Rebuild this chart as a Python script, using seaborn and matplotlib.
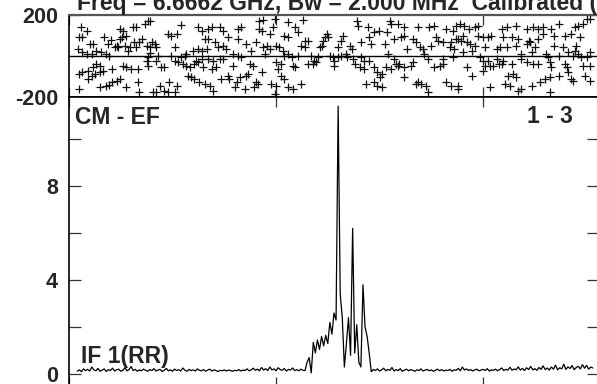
import numpy as np
import matplotlib
matplotlib.use("Agg")
import matplotlib.pyplot as plt
import seaborn as sns

# Phase (deg) per channel
chan_a = [12, 17, 10, 13, 49, 52, 62, 65, 73, 76, 78, 108, 125, 96, 99, 104, 34, 41, 49, 51,
          55, 63, 68, 71, 80, 83, 46, 38, 20, 23, 9, 13, 17, 22, 26, 31, 36, 39, 44, 47,
          54, 59, 57, 65, 75, 78, 84, 102, 78, 86, 99, 108, 112, 113, 120, 125, 10, 13, 18, 23,
          26, 30, 25, 30, 33, 22, 18, 42, 52, 55, 60, 67, 75, 76, 84, 89, 92, 76, 102, 105,
          110, 113, 117, 121, 125, 115, 118, 121, 10, 30, 36, 39, 42, 46, 49, 55, 67, 68, 81, 84,
          88, 92, 96, 97, 104, 102, 123]
phase_a = [140, 124, 91, 91, 132, 124, 140, 143, 156, 172, 169, 153, 143, 107, 99, 107, 94, 78, 83, 91,
           99, 67, 67, 83, 67, 59, 50, 59, 59, 59, 34, 18, 10, 10, 26, 18, 10, 2, 42, 46,
           50, 42, 26, 42, 50, 42, 42, 42, 13, 2, 2, -6, 2, 10, 26, 34, -88, -80, -71, -55,
           -39, -47, -88, -80, -71, -96, -112, -63, -47, -55, -63, -63, -23, -47, -23, -55, -55, -6, -23, -31,
           -39, -47, -55, -39, -31, -96, -104, -112, -161, -153, -145, -140, -128, -120, -112, -153, -128, -177, -177, -177,
           -145, -169, -177, -128, -145, -177, -23]

chan_b = [184, 187, 199, 212, 226, 128, 134, 138, 146, 149, 154, 163, 166, 163, 184, 186, 194, 197, 208, 212,
          218, 221, 228, 231, 245, 247, 249, 244, 242, 131, 134, 141, 144, 149, 152, 171, 181, 187, 191, 194,
          200, 203, 207, 212, 224, 228, 221, 128, 133, 158, 163, 176, 189, 128, 134, 139, 146, 149, 166, 208,
          215, 234, 237, 239, 241, 129, 138, 142, 158, 175, 178, 186, 200, 202, 205, 216, 218, 231, 236, 126,
          131, 136, 139, 147, 154, 155, 162, 165, 171, 173, 181, 183, 160, 170, 179, 195, 200, 205, 208, 212,
          216, 224, 199]
phase_b = [172, 176, 181, 164, 176, 124, 132, 140, 140, 124, 91, 132, 140, 83, 132, 124, 107, 140, 99, 91,
           140, 116, 75, 75, 75, 91, 107, 50, 42, 83, 83, 67, 42, 50, 34, 59, 67, 42, 50, 34,
           50, 42, 26, 10, 50, 42, 2, 26, 34, 10, 2, 26, 10, -14, -14, -23, -14, -14, -6, 2,
           -6, 2, -23, -31, -6, -55, -63, -55, -47, -39, -47, -80, -31, -63, -39, -47, -55, -39, -39, -128,
           -136, -145, -169, -112, -96, -112, -128, -104, -96, -88, -128, -136, -153, -161, -153, -136, -145, -96, -112, -153,
           -161, -136, -185]

chan_c = [278, 279, 289, 295, 299, 307, 310, 311, 318, 324, 337, 348, 353, 364, 371, 374, 265, 263, 290, 282,
          292, 314, 321, 324, 332, 335, 305, 355, 356, 361, 369, 374, 250, 260, 271, 273, 327, 339, 342, 350,
          368, 372, 308, 343, 252, 255, 256, 260, 263, 268, 269, 274, 282, 256, 285, 290, 314, 316, 347, 361,
          371, 276, 281, 285, 295, 298, 302, 306, 311, 318, 319, 324, 330, 332, 353, 358, 361, 324, 300, 287,
          295, 298, 302, 335, 337, 340, 345, 347, 364, 369, 376]
phase_c = [172, 148, 140, 116, 124, 116, 172, 156, 156, 140, 140, 140, 148, 132, 124, 148, 99, 75, 91, 67,
           59, 83, 91, 99, 83, 67, 59, 91, 75, 67, 67, 83, 91, 42, 50, 34, 34, 42, 34, 50,
           42, 34, 10, 10, 2, -6, -23, -6, 2, 10, -6, -14, -6, -47, -23, -23, -14, -39, -14, -14,
           -6, -39, -55, -63, -55, -80, -88, -55, -63, -47, -39, -55, -47, -31, -55, -47, -39, -104, -104, -136,
           -128, -145, -153, -136, -128, -136, -145, -177, -128, -145, -145]

chan_d = [378, 382, 386, 392, 395, 418, 423, 432, 442, 448, 453, 458, 466, 473, 489, 492, 497, 500, 381, 395,
          400, 405, 408, 419, 428, 434, 444, 453, 458, 469, 479, 485, 494, 376, 379, 384, 387, 392, 402, 413,
          416, 423, 432, 442, 445, 450, 469, 477, 490, 381, 389, 437, 447, 461, 463, 473, 482, 487, 489, 492,
          495, 500, 503, 397, 400, 405, 413, 419, 437, 442, 448, 453, 465, 466, 479, 481, 497, 503, 384, 402,
          407, 410, 415, 418, 428, 389, 400, 424, 429, 432, 465, 473, 482, 498, 503, 421, 426, 434, 437, 447,
          455, 460, 465, 376, 407, 485, 487, 503]
phase_d = [156, 148, 132, 140, 148, 132, 140, 148, 132, 140, 132, 140, 132, 156, 140, 148, 156, 181, 99, 99,
           91, 91, 99, 91, 91, 83, 75, 83, 107, 99, 99, 107, 91, 83, 75, 67, 59, 50, 42, 34,
           42, 42, 50, 59, 67, 42, 50, 42, 50, 18, 26, 10, 18, 10, -6, 2, 18, 2, 26, 10,
           -6, -6, 18, -6, -23, -23, -14, -23, -14, -31, -39, -39, -31, -55, -39, -55, -47, -47, -55, -47,
           -47, -47, -39, -39, -39, -96, -71, -96, -88, -104, -104, -96, -80, -96, -120, -136, -145, -169, -161, -145,
           -128, -112, -177, -161, -153, -112, -120, 180]

# Amplitude spectrum, every second channel from channel 8
spec_start = 8
spec_step = 2
amp = [0.12, 0.18, 0.10, 0.22, 0.15, 0.20, 0.13, 0.30, 0.18, 0.14, 0.24, 0.12, 0.17, 0.22, 0.11,
       0.19, 0.15, 0.25, 0.13, 0.18, 0.21, 0.12, 0.16, 0.27, 0.14, 0.19, 0.32, 0.15, 0.20, 0.12,
       0.18, 0.14, 0.21, 0.16, 0.12, 0.19, 0.15, 0.23, 0.13, 0.17, 0.20, 0.11, 0.16, 0.24, 0.14,
       0.18, 0.12, 0.21, 0.15, 0.19, 0.13, 0.26, 0.16, 0.12, 0.20, 0.15, 0.18, 0.13, 0.22, 0.16,
       0.14, 0.19, 0.12, 0.17, 0.21, 0.13, 0.18, 0.15, 0.11, 0.16, 0.14, 0.18, 0.13, 0.17, 0.15,
       0.12, 0.16, 0.14, 0.19, 0.13, 0.17, 0.15, 0.22, 0.14, 0.18, 0.25, 0.16, 0.21, 0.14, 0.28,
       0.17, 0.23, 0.15, 0.30, 0.18, 0.22, 0.14, 0.27, 0.19, 0.16, 0.24, 0.13, 0.20, 0.17, 0.26,
       0.15, 0.19, 0.14, 0.21, 0.16,
       # line region, channels 228-294
       0.15, 0.5, 0.7, 0.05, 1.35, 0.9, 1.45, 1.05, 1.6, 1.2, 1.65, 1.3, 2.2, 1.7, 2.6, 2.3,
       11.4, 3.4, 2.4, 0.3, 1.3, 2.4, 0.8, 6.2, 0.9, 2.1, 0.5, 0.3, 3.8, 2.0, 1.6, 0.9, 0.1, 0.2,
       0.15, 0.22, 0.13, 0.18, 0.25, 0.14, 0.20, 0.16, 0.28, 0.13, 0.19, 0.15, 0.23, 0.12, 0.17,
       0.21, 0.14, 0.19, 0.16, 0.12, 0.18, 0.15, 0.22, 0.13, 0.17, 0.20, 0.14, 0.18, 0.12, 0.16,
       0.21, 0.14, 0.19, 0.13, 0.17, 0.15, 0.20, 0.12, 0.18, 0.16, 0.24, 0.14, 0.30, 0.17, 0.22,
       0.15, 0.19, 0.13, 0.18, 0.21, 0.14, 0.17, 0.20, 0.15, 0.23, 0.13, 0.18, 0.16, 0.21, 0.14,
       0.19, 0.26, 0.15, 0.20, 0.17, 0.29, 0.16, 0.22, 0.18, 0.31, 0.17, 0.24, 0.15, 0.27, 0.19,
       0.33, 0.18, 0.23, 0.16, 0.28, 0.20, 0.35, 0.19, 0.26, 0.17, 0.30, 0.21, 0.38, 0.18, 0.27,
       0.22, 0.42, 0.20, 0.31, 0.24, 0.36, 0.19, 0.28, 0.33, 0.22, 0.40, 0.25, 0.37, 0.21, 0.30, 0.26]

title = "Freq = 6.6662 GHz, Bw = 2.000 MHz  Calibrated (Data)"
baseline_lbl = "CM - EF"
pol_lbl = "IF 1(RR)"
num_lbl = "1 - 3"

phase_chan = np.array(chan_a + chan_b + chan_c + chan_d)
phase_val = np.array(phase_a + phase_b + phase_c + phase_d)
spec_chan = spec_start + spec_step * np.arange(len(amp))

sns.set_theme(style="white")
plt.rcParams["font.family"] = ["Liberation Sans", "DejaVu Sans"]
plt.rcParams["font.weight"] = "bold"

W, H = 597, 384
fig = plt.figure(figsize=(W / 100, H / 100), dpi=100)
ax1 = fig.add_axes([69 / W, 1 - 97 / H, 530 / W, 82 / H])
ax2 = fig.add_axes([69 / W, -3 / H, 530 / W, 290 / H])

sns.scatterplot(x=phase_chan, y=phase_val, ax=ax1, marker="+", color="#111111",
                s=40, linewidth=0.9, legend=False)
ax1.axhline(0, color="black", lw=1.0)
ax1.set_xlim(0, 512)
ax1.set_ylim(-200, 200)
ax1.set_yticks([-200, 200])
ax1.set_yticklabels(["-200", "200"])

sns.lineplot(x=spec_chan, y=amp, ax=ax2, color="black", lw=0.9)
ax2.set_xlim(0, 512)
ax2.set_ylim(-0.55, 11.79)
ax2.set_yticks([0, 2, 4, 6, 8, 10])
ax2.set_yticklabels(["0", "", "4", "", "8", ""])

for ax in (ax1, ax2):
    ax.set_xticks([0, 200, 400])
    ax.set_xticklabels([])
    ax.tick_params(axis="x", direction="in", length=7, width=0.9, color="#333333",
                   top=True, bottom=True)
    ax.tick_params(axis="y", direction="in", length=8.5, width=0.9, color="#333333",
                   left=True, right=True, pad=8, labelsize=15.5)
    for lab in ax.get_yticklabels():
        lab.set_fontweight("bold")
    for sp in ax.spines.values():
        sp.set_color("black")
        sp.set_linewidth(1.2)
    ax.set_xlabel("")
    ax.set_ylabel("")
ax1.spines["top"].set_color("#555555")
ax1.spines["top"].set_linewidth(1.6)

ax2.text(0.011, 0.907, baseline_lbl, transform=ax2.transAxes, fontsize=16.5,
         fontweight="bold", va="baseline", ha="left")
ax2.text(0.951, 0.910, num_lbl, transform=ax2.transAxes, fontsize=16.5,
         fontweight="bold", va="baseline", ha="right")
ax2.text(0.023, 0.083, pol_lbl, transform=ax2.transAxes, fontsize=16.5,
         fontweight="bold", va="baseline", ha="left")
fig.text(77 / W, 1 - 10 / H, title, fontsize=16.5, fontweight="bold",
         va="baseline", ha="left")

fig.savefig("out.png", dpi=100)
plt.close(fig)
